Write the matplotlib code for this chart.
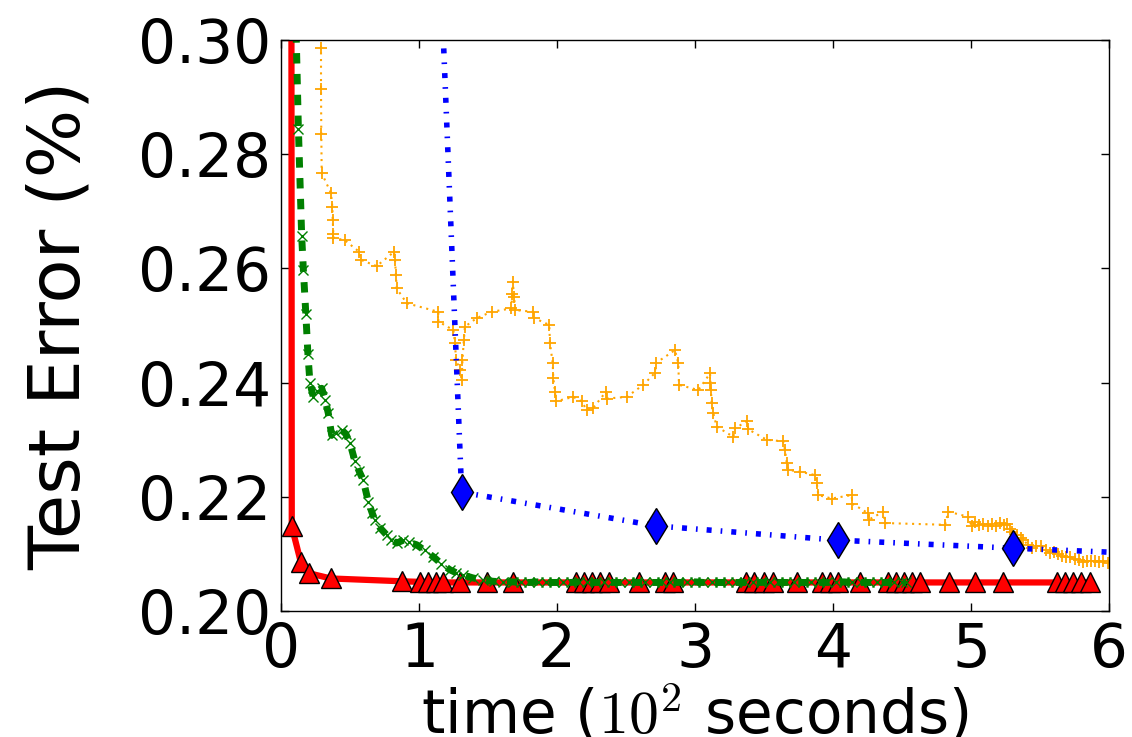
import matplotlib
matplotlib.use("Agg")
from matplotlib import pyplot as plt

# red: solid line with triangles
red_x = [0.073, 0.078, 0.143, 0.205, 0.36, 0.88, 1.007, 1.063, 1.12, 1.176, 1.297,
         1.495, 1.683, 2.138, 2.198, 2.254, 2.314, 2.376, 2.596, 2.780, 2.842,
         3.368, 3.427, 3.502, 3.564, 3.738, 3.919, 3.976, 4.035, 4.196, 4.395,
         4.455, 4.514, 4.571, 4.630, 4.838, 5.029, 5.231, 5.624, 5.684, 5.741,
         5.800, 5.860]
red_y = [0.40, 0.2148, 0.2086, 0.2066, 0.2057, 0.2052, 0.2051, 0.2051, 0.2050,
         0.2050, 0.2050, 0.2050, 0.2050, 0.2050, 0.2050, 0.2050, 0.2050, 0.2050,
         0.2050, 0.2050, 0.2050, 0.2050, 0.2050, 0.2050, 0.2050, 0.2050, 0.2050,
         0.2050, 0.2050, 0.2050, 0.2050, 0.2050, 0.2050, 0.2050, 0.2050, 0.2050,
         0.2050, 0.2050, 0.2050, 0.2050, 0.2050, 0.2050, 0.2050]

# green: dashed line with x markers
green_x = [0.106, 0.126, 0.15, 0.162, 0.18, 0.195, 0.21, 0.234, 0.26, 0.295, 0.32,
           0.343, 0.367, 0.40, 0.44, 0.47, 0.50, 0.536, 0.566, 0.596, 0.633, 0.66,
           0.681, 0.72, 0.766, 0.80, 0.838, 0.886, 0.93, 0.983, 1.04, 1.104, 1.16,
           1.225, 1.27, 1.321, 1.39, 1.466, 1.54, 1.61,
           1.68, 1.74, 1.80, 1.86, 1.92, 1.98, 2.04, 2.10, 2.16, 2.22, 2.28, 2.34,
           2.40, 2.46, 2.52, 2.58, 2.64, 2.70, 2.76, 2.82, 2.88, 2.94, 3.00, 3.06,
           3.12, 3.18, 3.24, 3.30, 3.36, 3.42, 3.48, 3.54, 3.60, 3.66, 3.72, 3.78,
           3.84, 3.90, 3.96, 4.02, 4.08, 4.14, 4.20, 4.26, 4.32, 4.38, 4.44, 4.50,
           4.53]
green_y = [0.305, 0.2845, 0.2656, 0.2598, 0.252, 0.245, 0.2399, 0.2375, 0.2385,
           0.239, 0.237, 0.2346, 0.2308, 0.2312, 0.2317, 0.231, 0.2294, 0.2262,
           0.2245, 0.2229, 0.2191, 0.2172, 0.2159, 0.2145, 0.2133, 0.2125, 0.2119,
           0.2124, 0.212, 0.2116, 0.2106, 0.2095, 0.2083, 0.2072, 0.2067, 0.2063,
           0.2058, 0.2054, 0.2052, 0.2051,
           0.2051, 0.2050, 0.2050, 0.2051, 0.2050, 0.2050, 0.2050, 0.2050, 0.2051,
           0.2050, 0.2050, 0.2050, 0.2050, 0.2050, 0.2051, 0.2050, 0.2050, 0.2050,
           0.2050, 0.2050, 0.2050, 0.2050, 0.2051, 0.2050, 0.2050, 0.2050, 0.2050,
           0.2050, 0.2050, 0.2050, 0.2050, 0.2051, 0.2050, 0.2050, 0.2050, 0.2050,
           0.2050, 0.2050, 0.2050, 0.2050, 0.2051, 0.2050, 0.2050, 0.2050, 0.2050,
           0.2050, 0.2050, 0.2050, 0.2050]

# orange: dotted line with + markers
orange_x = [0.289, 0.290, 0.290, 0.292, 0.295, 0.362, 0.372, 0.375, 0.379, 0.38,
            0.464, 0.567, 0.578, 0.693, 0.819, 0.826, 0.833, 0.838, 0.911, 1.14,
            1.14, 1.249, 1.261, 1.268, 1.297, 1.309, 1.315, 1.325, 1.333, 1.418,
            1.527, 1.67, 1.675, 1.679, 1.69, 1.696, 1.828, 1.835, 1.944, 1.949,
            1.969, 1.973, 1.986, 1.99, 2.118, 2.179, 2.215, 2.26, 2.355, 2.36,
            2.505, 2.625, 2.71, 2.715, 2.855, 2.879, 2.884, 3.024, 3.109, 3.112,
            3.115, 3.121, 3.133, 3.157, 3.278, 3.29, 3.375, 3.387, 3.519, 3.64,
            3.652, 3.665, 3.677, 3.761, 3.87, 3.882, 3.894, 3.99, 4.135, 4.14,
            4.256, 4.26, 4.365, 4.377, 4.812, 4.836, 4.98, 5.005, 5.03, 5.06,
            5.09, 5.12, 5.15, 5.18, 5.21, 5.24, 5.26, 5.28, 5.30, 5.33, 5.36,
            5.38, 5.41, 5.44, 5.47, 5.51, 5.54, 5.57, 5.60, 5.63, 5.66, 5.69,
            5.72, 5.75, 5.78, 5.81, 5.84, 5.87, 5.90, 5.93, 5.96, 5.99]
orange_y = [0.31, 0.2986, 0.2914, 0.2835, 0.2767, 0.2732, 0.2708, 0.2685, 0.2661,
            0.2654, 0.2649, 0.2629, 0.2615, 0.2604, 0.2629, 0.2615, 0.2588, 0.2565,
            0.2539, 0.2524, 0.2507, 0.2492, 0.2469, 0.2440, 0.2422, 0.2405, 0.2440,
            0.2475, 0.2498, 0.2513, 0.2524, 0.2530, 0.2555, 0.2577, 0.2550, 0.2527,
            0.2524, 0.2513, 0.2501, 0.2469, 0.2434, 0.2408, 0.2384, 0.2367, 0.2375,
            0.2367, 0.2352, 0.2355, 0.2384, 0.2372, 0.2375, 0.2396, 0.2417, 0.2434,
            0.2457, 0.2434, 0.2396, 0.2387, 0.2416, 0.2399, 0.2387, 0.2364, 0.2346,
            0.2323, 0.2305, 0.2320, 0.2332, 0.2318, 0.2300, 0.2297, 0.2282, 0.2259,
            0.2247, 0.2244, 0.2238, 0.2224, 0.2203, 0.2197, 0.2203, 0.2188, 0.2171,
            0.2160, 0.2174, 0.2154, 0.2151, 0.2174, 0.2165, 0.2148, 0.2156, 0.2150,
            0.2153, 0.2148, 0.2152, 0.2149, 0.2154, 0.2150, 0.2153, 0.2143, 0.2138,
            0.2133, 0.2128, 0.2125, 0.2116, 0.2110, 0.2114, 0.2113, 0.2106, 0.2102,
            0.2104, 0.2099, 0.2097, 0.2095, 0.2094, 0.2091, 0.2090, 0.2086, 0.2088,
            0.2087, 0.2088, 0.2086, 0.2087, 0.2084]

# blue: dash-dot line with diamonds
blue_x = [1.16, 1.309, 2.72, 4.039, 5.307, 6.6]
blue_y = [0.31, 0.2208, 0.2149, 0.2124, 0.2110, 0.2097]

plt.rcParams["font.family"] = "DejaVu Sans"
plt.rcParams["mathtext.fontset"] = "cm"
plt.rcParams["lines.scale_dashes"] = False

fig = plt.figure(figsize=(11.32, 7.37), dpi=100)
ax = fig.add_axes([281 / 1132, 1 - 611 / 737, 828 / 1132, 571 / 737])

ax.plot(red_x, red_y, color="red", linestyle="-", linewidth=4.5,
        marker="^", markersize=14, markerfacecolor="red", markeredgecolor="black",
        markeredgewidth=1.0)
ax.plot(green_x, green_y, color="green", linewidth=5, dashes=[7.5, 7.5],
        marker="x", markersize=7, markeredgewidth=1.0)
ax.plot(orange_x, orange_y, color="orange", linewidth=1.5, dashes=[1.5, 3.3],
        marker="+", markersize=8, markeredgewidth=1.3)
ax.plot(blue_x, blue_y, color="blue", linewidth=4, dashes=[3.6, 6.5, 1.2, 6.5],
        marker="d", markersize=18, markerfacecolor="blue", markeredgecolor="black",
        markeredgewidth=1.0)

ax.set_xlim(0, 6)
ax.set_ylim(0.20, 0.30)
ax.set_xticks([0, 1, 2, 3, 4, 5, 6])
ax.set_yticks([0.20, 0.22, 0.24, 0.26, 0.28, 0.30])
ax.set_yticklabels(["0.20", "0.22", "0.24", "0.26", "0.28", "0.30"])
ax.tick_params(direction="in", top=True, right=True, length=6, width=1,
               labelsize=43, pad=7)
for s in ax.spines.values():
    s.set_linewidth(1.0)

ax.set_xlabel(r"time ($10^2$ seconds)", fontsize=43, labelpad=3)
ax.set_ylabel("Test Error (%)", fontsize=52, labelpad=31)

fig.savefig("out.png", dpi=100)
